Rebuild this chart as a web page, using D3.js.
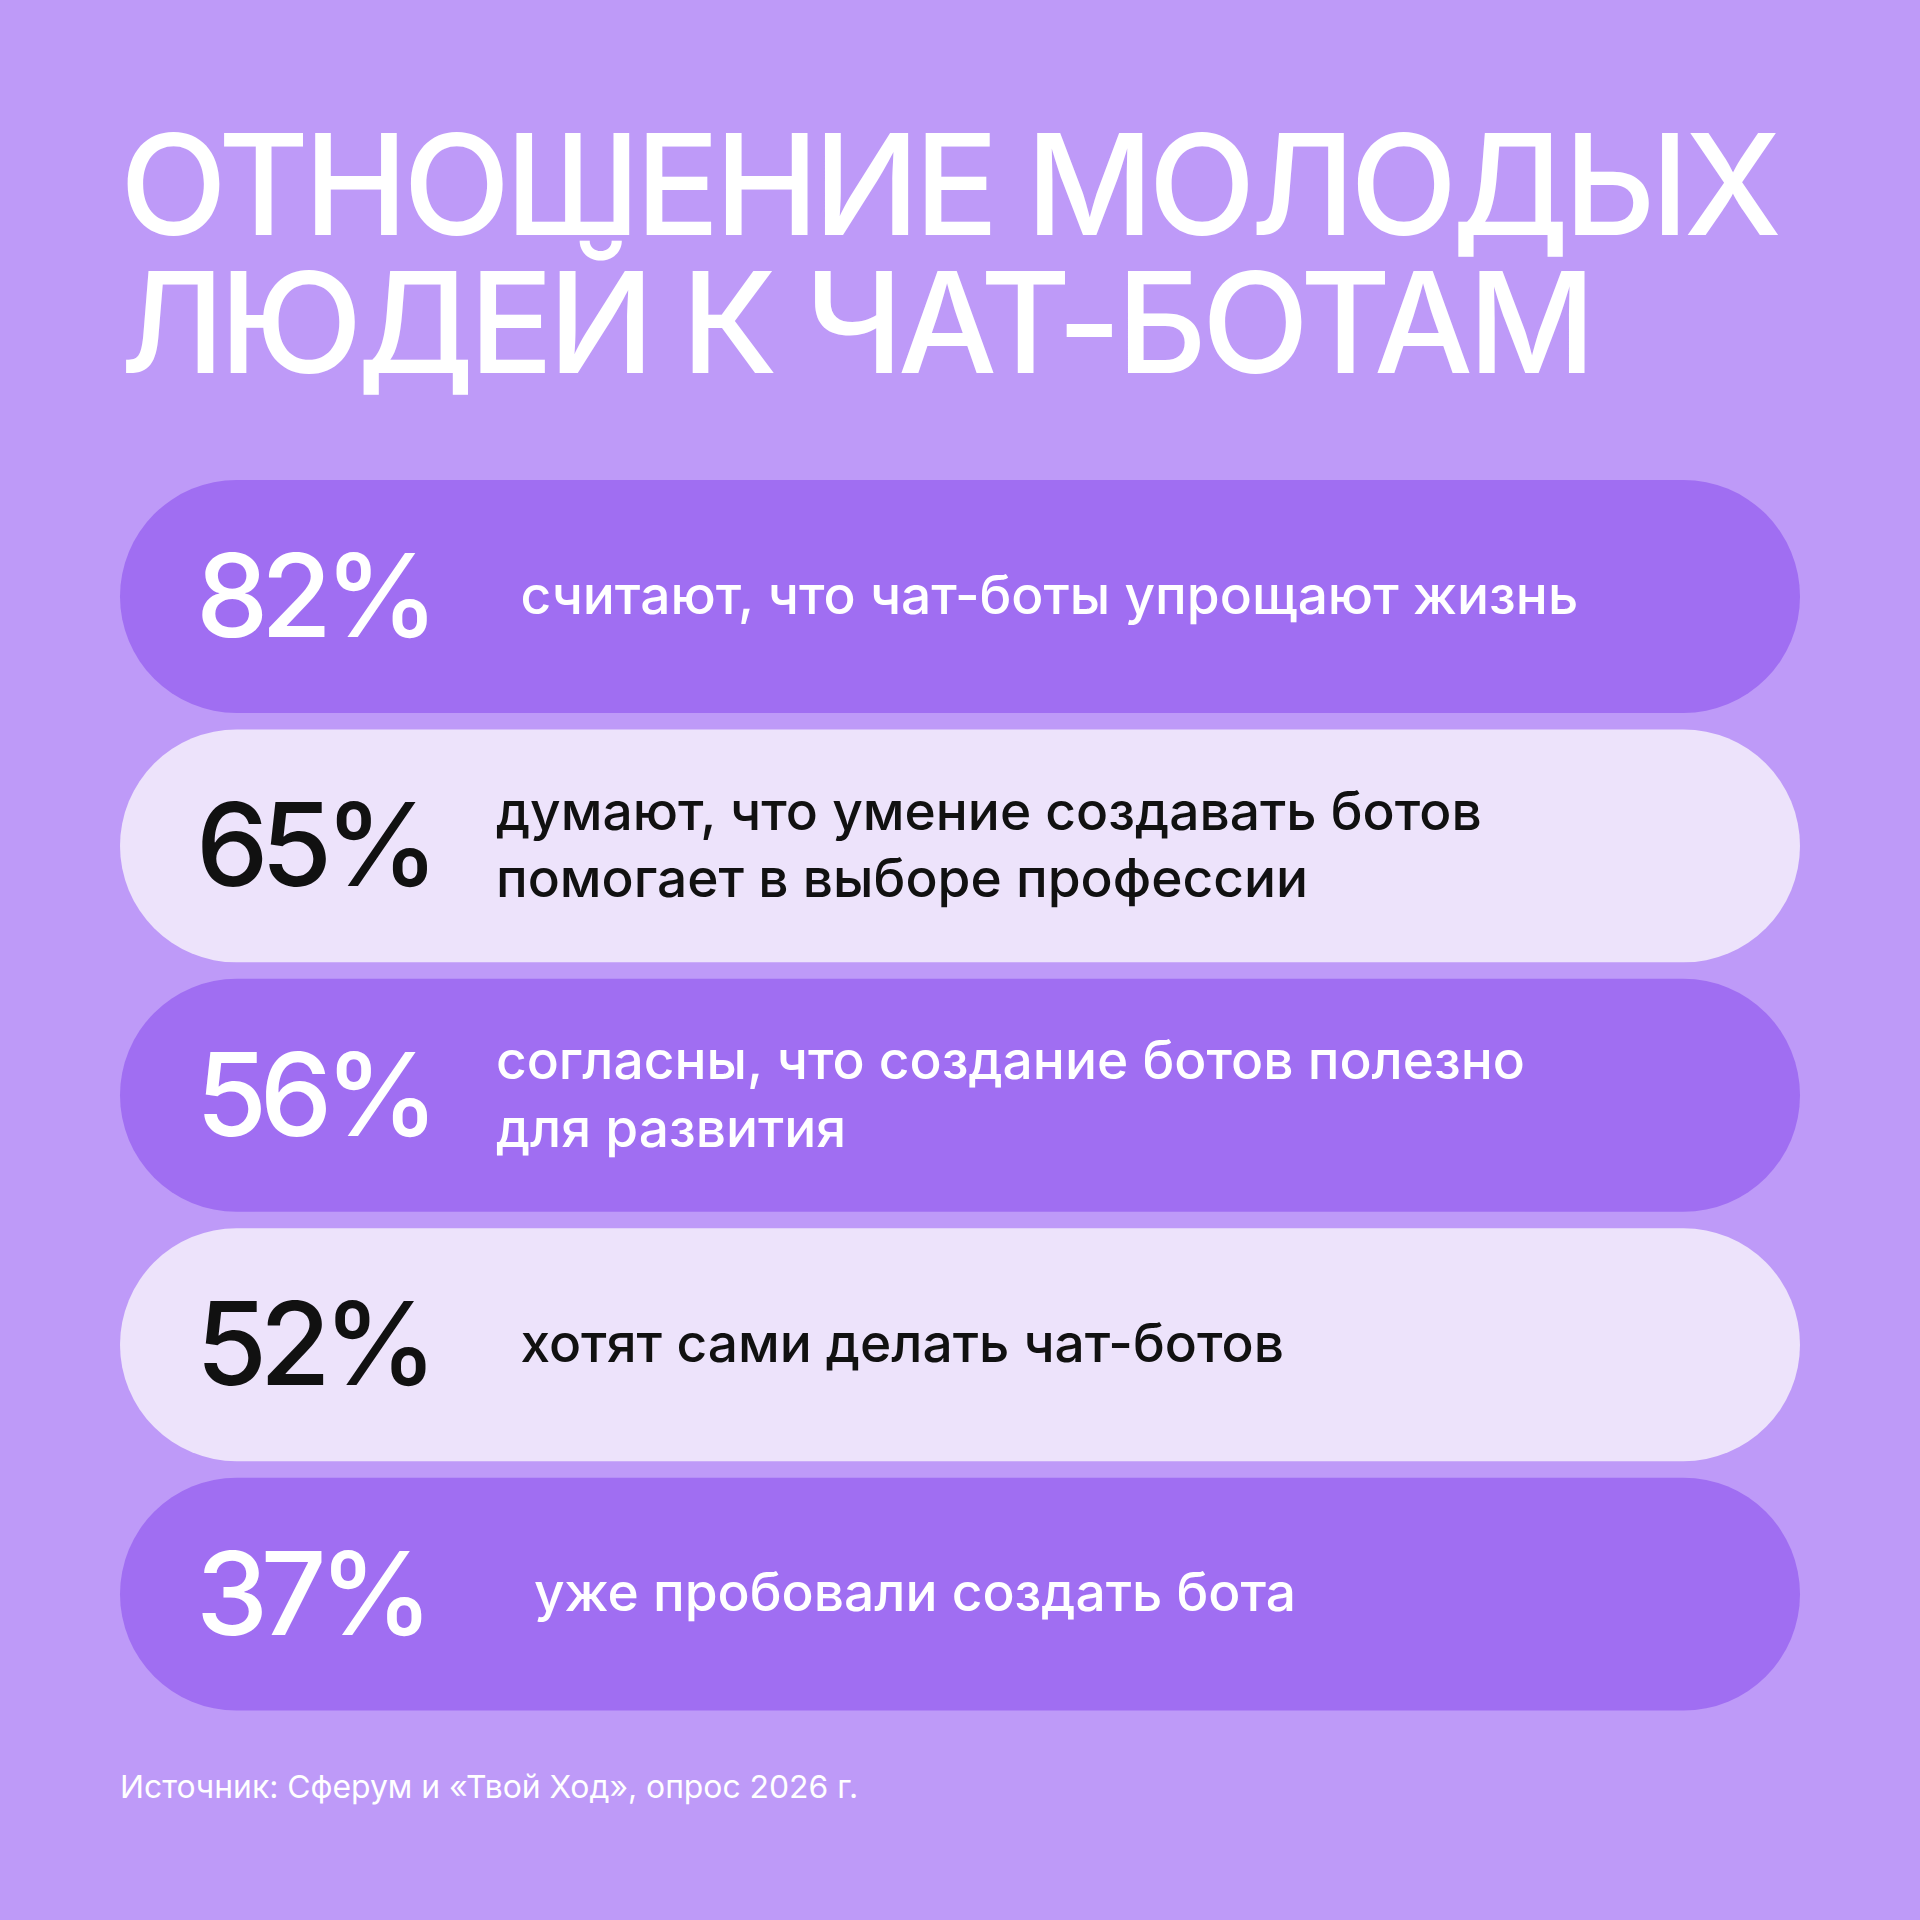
<!DOCTYPE html>
<html><head><meta charset="utf-8">
<script src="https://cdn.jsdelivr.net/npm/d3@7"></script>
<style>body{margin:0;background:#BE9AF8}svg{display:block}</style>
</head><body>
<script>
const titleLines = ["ОТНОШЕНИЕ МОЛОДЫХ", "ЛЮДЕЙ К ЧАТ-БОТАМ"];
const values = [82, 65, 56, 52, 37];
const labels = [
  ["считают, что чат-боты упрощают жизнь"],
  ["думают, что умение создавать ботов", "помогает в выборе профессии"],
  ["согласны, что создание ботов полезно", "для развития"],
  ["хотят сами делать чат-ботов"],
  ["уже пробовали создать бота"]
];
const source = "Источник: Сферум и «Твой Ход», опрос 2026 г.";

const W = 1568;
const svg = d3.select("body").append("svg").attr("width",1920).attr("height",1920)
  .attr("viewBox",`0 0 ${W} ${W}`).style("font-family","Inter, 'Noto Sans', sans-serif");
svg.append("rect").attr("width",W).attr("height",W).attr("fill","#BE9AF8");

svg.selectAll("text.title").data(titleLines).join("text")
  .attr("x",98).attr("y",(d,i)=>192+i*113)
  .attr("fill","#fff").attr("font-size",114).attr("font-weight",500)
  .attr("letter-spacing",-4).text(d=>d);

const y = d3.scaleBand().domain(d3.range(values.length)).range([392,1397]).paddingInner(0.066);
const g = svg.selectAll("g.row").data(values).join("g").attr("transform",(d,i)=>`translate(98,${y(i)})`);
const dark = i => i%2===0;
g.append("rect").attr("width",1372).attr("height",y.bandwidth()).attr("rx",y.bandwidth()/2)
  .attr("fill",(d,i)=>dark(i)?"#A06EF2":"#EDE3FB");
g.append("text").attr("x",62).attr("y",y.bandwidth()/2+33)
  .attr("font-size",94).attr("font-weight",500).attr("letter-spacing",-6)
  .attr("fill",(d,i)=>dark(i)?"#fff":"#111").text(d=>d+"%");
g.each(function(d,i){
  const L = labels[i], two = L.length>1;
  d3.select(this).selectAll("text.lab").data(L).join("text")
    .attr("x", two?307:(i===4?338:327))
    .attr("y",(t,j)=> two ? y.bandwidth()/2 - 13 + j*55 : y.bandwidth()/2+14)
    .attr("font-size",43.5).attr("font-weight",500).attr("letter-spacing",0)
    .attr("fill",dark(i)?"#fff":"#111").text(t=>t);
});
svg.append("text").attr("x",98).attr("y",1468).attr("font-size",26).attr("fill","#fff")
  .attr("letter-spacing",0).text(source);
</script></body></html>
